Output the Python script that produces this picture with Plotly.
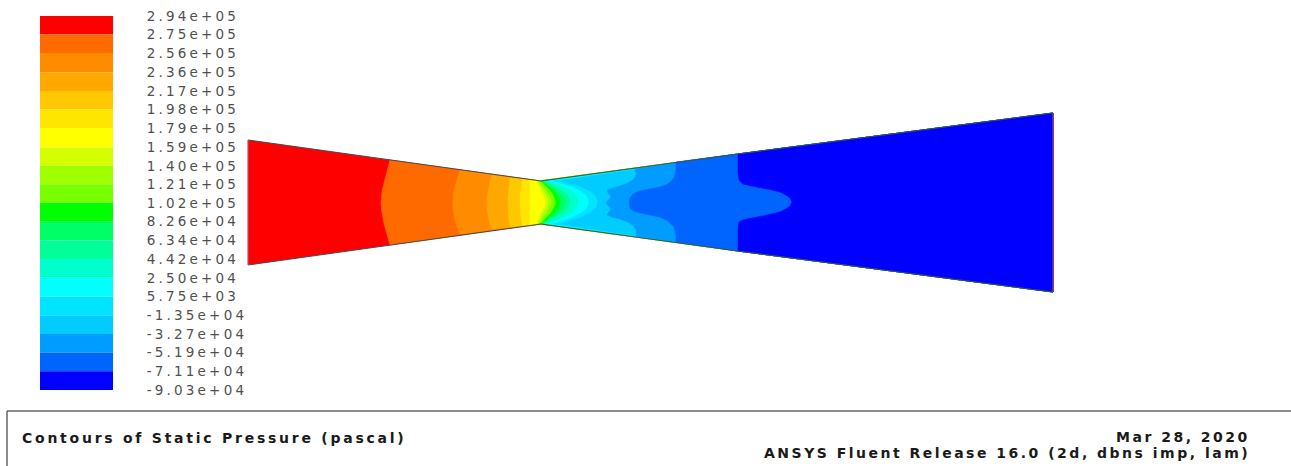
import plotly.graph_objects as go

# ---- colour scale (static pressure, Pa) ----
level_labels = ["2.94e+05","2.75e+05","2.56e+05","2.36e+05","2.17e+05","1.98e+05","1.79e+05",
                "1.59e+05","1.40e+05","1.21e+05","1.02e+05","8.26e+04","6.34e+04","4.42e+04",
                "2.50e+04","5.75e+03","-1.35e+04","-3.27e+04","-5.19e+04","-7.11e+04","-9.03e+04"]
level_values = [float(s) for s in level_labels]
band_colors = ["#ff0000","#ff6a00","#ff8c00","#ffa800","#ffc800","#ffe600","#ffff00","#d4ff00",
               "#a0ff00","#78ff00","#00ff00","#00ff66","#00ff99","#00ffcc","#00ffff","#00e5ff",
               "#00ccff","#009cff","#0064ff","#0000ff"]

# ---- nozzle walls ----
top_wall_x = [248, 390, 541, 738, 1053]
top_wall_y = [140, 160, 181, 154, 113]
bot_wall_x = [248, 390, 541, 738, 1053]
bot_wall_y = [265, 245, 224, 251, 292]

# ---- contour boundaries, upstream to downstream (index = first band right of the curve) ----
throat_y = [181,186,191,196,202,208,213,218,224]
contours = {
 1: ([390,388,386,384,382.5,381.5,381,381.5,382.5,384,386,388,390],[160,168,175,182,189,196,203,210,217,224,231,238,245]),
 2: ([460,458,456,454.5,453.5,453,453,453,453.5,454.5,456,458,460],[170,176,182,188,193,198,203,208,213,218,224,229,234]),
 3: ([492,490,488.5,487.5,487,487,487,487.5,488.5,490,492],[175,182,189,195,199,203,207,212,218,224,229]),
 4: ([510,509,508.5,508,508,508,508.5,509,510],[178,186,193,199,203,207,213,220,227]),
 5: ([523,521.5,520.5,520,520,520,520.5,521.5,523],[179,186,193,199,203,207,213,220,226]),
 6: ([530,530,530,530,530],[180,190,203,215,225]),
 7: ([537,539,541,544,546,544,541,539,537],throat_y),
 8: ([538,541,544,547,549,547,544,541,538],throat_y),
 9: ([539,543,547,550,552,550,547,543,539],throat_y),
 10:([541,546,551,554,556,554,551,546,541],throat_y),
 11:([542,549,555,559,561,559,555,549,542],throat_y),
 12:([543,552,559,564,566,564,559,552,543],throat_y),
 13:([545,556,564,569,571,569,564,556,545],throat_y),
 14:([548,563,572,577,579,577,572,563,548],throat_y),
 15:([553,571,581,587,589,587,581,571,553],throat_y),
 16:([560,580,590,596,598,596,590,580,560],throat_y),
 17:([635,636.5,634,628,620,612,607,608,611,610,607,606,607,610,611,608,607,612,620,628,634,636.5,636],
     [169,174,179,183,186,188,190,193,196,199,201,203,205,207,210,213,215,217,219,222,226,231,236]),
 18:([676,676,674,668,660,650,640,633,630,629.5,630,633,640,650,660,668,674,676,676],
     [162,170,178,184,187,189,191,194,198,203,208,211,213,215,217,221,227,235,242]),
 19:([738,738,739,743,752,763,772,780,786,790,792,790,786,780,772,763,752,743,739,738,738],
     [154,172,180,184,186,188,190,192,195,198,202,206,209,212,214,216,218,220,222,230,251]),
}

title_left = "Contours of Static Pressure (pascal)"
title_right_1 = "Mar 28, 2020"
title_right_2 = "ANSYS Fluent Release 16.0 (2d, dbns imp, lam)"

W, H = 1291, 466
fig = go.Figure()


def region(cx, cy):
    """Everything downstream of a contour curve, closed along the nozzle walls."""
    xs = list(cx); ys = list(cy)
    for x, y in zip(bot_wall_x, bot_wall_y):
        if x > cx[-1]:
            xs.append(x); ys.append(y)
    for x, y in reversed(list(zip(top_wall_x, top_wall_y))):
        if x > cx[0]:
            xs.append(x); ys.append(y)
    return xs + [xs[0]], ys + [ys[0]]


bx = top_wall_x + bot_wall_x[::-1] + [top_wall_x[0]]
by = top_wall_y + bot_wall_y[::-1] + [top_wall_y[0]]
fig.add_trace(go.Scatter(x=bx, y=by, mode="lines", fill="toself", fillcolor=band_colors[0],
                         line=dict(width=0), hoverinfo="skip"))
for i, (cx, cy) in contours.items():
    xs, ys = region(cx, cy)
    fig.add_trace(go.Scatter(x=xs, y=ys, mode="lines", fill="toself", fillcolor=band_colors[i],
                             line=dict(width=0.6, color=band_colors[i]), hoverinfo="skip"))

for xs, ys, col, w in [(top_wall_x, top_wall_y, "#4a4a4a", 1), (bot_wall_x, bot_wall_y, "#4a4a4a", 1),
                       ([top_wall_x[0]]*2, [top_wall_y[0], bot_wall_y[0]], "#b0508a", 1.2),
                       ([top_wall_x[-1]]*2, [top_wall_y[-1], bot_wall_y[-1]], "#a0307a", 1.4)]:
    fig.add_trace(go.Scatter(x=xs, y=ys, mode="lines", line=dict(color=col, width=w), hoverinfo="skip"))

for i, c in enumerate(band_colors):
    lo, hi = level_values[i + 1], level_values[i]
    fig.add_trace(go.Bar(x=[0], y=[hi - lo], base=[lo], width=[1], marker=dict(color=c, line=dict(width=0)),
                         xaxis="x2", yaxis="y2", hoverinfo="skip"))


def spaced(s, px):
    return f'<span style="letter-spacing:{px}px">{s}</span>'


bold = dict(family="DejaVu Sans", size=14, color="#1a1a1a", weight="bold")
fig.update_layout(
    width=W, height=H, margin=dict(l=0, r=0, t=0, b=0, pad=0, autoexpand=False), showlegend=False, barmode="overlay",
    paper_bgcolor="white", plot_bgcolor="white",
    xaxis=dict(range=[0, W], visible=False, domain=[0, 1]),
    yaxis=dict(range=[H, 0], visible=False, domain=[0, 1]),
    xaxis2=dict(range=[-0.5, 0.5], visible=False, domain=[40 / W, 113 / W], anchor="y2"),
    yaxis2=dict(range=[level_values[-1], level_values[0]], domain=[1 - 390 / H, 1 - 16 / H],
                anchor="x2", side="right", tickmode="array", tickvals=level_values,
                ticktext=[spaced(s, 3.2) for s in level_labels], ticks="outside", ticklen=30,
                tickcolor="rgba(0,0,0,0)", showgrid=False, zeroline=False, showline=False,
                tickfont=dict(family="DejaVu Sans", size=13.5, color="#505050")),
    shapes=[dict(type="line", xref="x", yref="y", x0=7, x1=W, y0=411, y1=411, line=dict(color="#666666", width=1.5)),
            dict(type="line", xref="x", yref="y", x0=7, x1=7, y0=411, y1=H, line=dict(color="#666666", width=1.5))],
    annotations=[
        dict(x=20, y=438, xref="x", yref="y", xanchor="left", yanchor="middle", showarrow=False,
             text=spaced(title_left, 2.75), font=bold),
        dict(x=1252, y=437, xref="x", yref="y", xanchor="right", yanchor="middle", showarrow=False,
             text=spaced(title_right_1, 2.5), font=bold),
        dict(x=1252, y=453, xref="x", yref="y", xanchor="right", yanchor="middle", showarrow=False,
             text=spaced(title_right_2, 2.5), font=bold),
    ],
)
fig.write_html("out.html", config=dict(displayModeBar=False),
               post_script="document.body.style.margin='0';document.body.style.overflow='hidden';")
